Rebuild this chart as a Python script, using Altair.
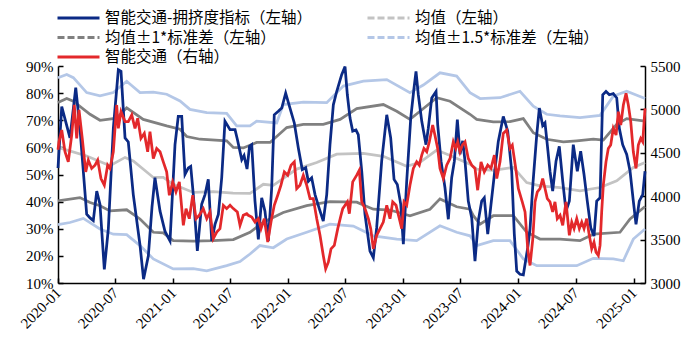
import altair as alt
import numpy as np
import pandas as pd

# ---------------- data (x = months since 2020-01-01) ----------------
START = pd.Timestamp("2020-01-01")
DAYS_PER_MONTH = 30.4375

S_BLUE = "智能交通-拥挤度指标（左轴）"
S_MEAN = "均值（左轴）"
S_SD1 = "均值±1*标准差（左轴）"
S_SD15 = "均值±1.5*标准差（左轴）"
S_RED = "智能交通（右轴）"
# legend is filled column by column (2 columns, 3 rows)
SERIES = [S_BLUE, S_SD1, S_RED, S_MEAN, S_SD15]
COLORS = ["#0B2A85", "#808080", "#E3282B", "#C3C3C3", "#B4C7E7"]
DASHES = [[1, 0], [7, 3], [1, 0], [7, 3], [7, 3]]

BLUE_M = [0, 0.39, 1.25, 1.85, 2.29, 2.99, 3.34, 3.68, 4.04, 4.38, 4.83, 5.25, 5.77, 6.29, 6.57, 6.99,
          7.33, 7.85, 8.55, 8.92, 9.42, 9.8, 10.11, 10.64, 11.16, 11.68, 12.2, 12.54, 12.9, 13.24, 13.59,
          13.84, 14.11, 14.53, 14.98, 15.33, 15.67, 16.03, 16.37, 16.72, 17.07, 17.41, 17.94, 18.46, 18.7,
          19.16, 19.4, 19.71, 19.97, 20.2, 20.54, 20.89, 21.24, 21.58, 21.93, 22.28, 22.55, 22.97, 23.33,
          23.74, 24.19, 24.64, 25.06, 25.47, 25.83, 26.1, 26.45, 26.8, 27.22, 27.66, 28.02, 28.36, 28.71,
          29.06, 29.58, 29.93, 30.17, 30.45, 30.73, 31.07, 31.31, 31.67, 32.01, 32.53, 32.88, 33.23, 33.75,
          34.28, 34.69, 35.04, 35.38, 35.74, 36.01, 36.36, 36.78, 37.12, 37.33, 37.57, 37.93, 38.37, 38.61,
          38.97, 39.42, 39.59, 39.94, 40.35, 40.7, 41.05, 41.33, 41.64, 41.92, 42.2, 42.44, 42.78, 43.14,
          43.48, 43.83, 44.18, 44.45, 44.81, 45.15, 45.5, 45.91, 46.43, 46.89, 47.31, 47.58, 47.83, 48.17,
          48.52, 48.98, 49.22, 49.53, 49.92, 50.19, 50.54, 50.78, 51.02, 51.3, 51.58, 51.93, 52.27, 52.63,
          52.97, 53.32, 53.73, 54.15, 54.5, 54.85, 55.19, 55.55, 55.89, 56.17, 56.52, 56.8, 57.14, 57.49,
          57.9, 58.26, 58.53, 58.88, 59.3, 59.65, 59.99, 60.27, 60.61, 60.97, 61.21]
BLUE_V = [52.4, 75, 63.5, 82, 67, 35.4, 34, 33, 43.9, 39, 15, 30, 67, 88.6, 88, 63.5,
          62, 42.6, 24, 11.4, 20, 38, 48.8, 36.5, 29, 25.5, 61, 71.4, 71.4, 50, 52.4,
          53, 42.6, 21.8, 39, 42.6, 48.2, 25.5, 31.6, 35.3, 48.8, 69.6, 66.5, 66.5, 63,
          55.5, 57, 52, 60.4, 61, 40.2, 26.1, 41.4, 36.5, 25.5, 45, 72, 73.3, 74.5,
          80, 74.5, 69, 59.8, 51.8, 52.5, 47.5, 48.8, 42.6, 37.7, 32.8, 42.6, 61, 75.7,
          80.6, 86.8, 89.8, 79.4, 70.8, 66, 66.4, 64.7, 51.2, 35.3, 21.8, 19.3, 30.4, 54.9,
          72, 63.5, 48.2, 46.3, 39, 24.3, 47.5, 70.8, 81.8, 88, 79.4, 69.6, 61, 67,
          78.2, 80.6, 68.4, 54.9, 45.1, 33.5, 48.8, 54.9, 70.2, 57.5, 62.4, 54.9, 40.2, 34,
          18.1, 33, 40.2, 41.4, 28, 39, 50, 62.2, 71.4, 66, 51.2, 28, 14.4, 13.2,
          13, 23, 30, 47, 64.7, 74.5, 68, 69, 61, 51.2, 43.9, 54.9, 60.4, 47.5,
          36.5, 40.2, 61, 51.2, 58.6, 50, 40.2, 30.4, 27.3, 40.2, 41.4, 79.4, 80.6, 79.4,
          79.8, 78.2, 67, 61, 57.4, 51.2, 40.2, 31.6, 40.2, 42.6, 51.2]

RED_M = [0, 0.1, 0.39, 0.73, 1.07, 1.43, 1.7, 1.95, 2.19, 2.53, 2.89, 3.16, 3.51, 3.86, 4.14, 4.48,
         4.83, 5.18, 5.42, 5.77, 6.12, 6.29, 6.57, 6.99, 7.33, 7.69, 8.03, 8.31, 8.65, 9.0, 9.35, 9.59,
         9.94, 10.29, 10.64, 10.98, 11.33, 11.61, 11.96, 12.3, 12.65, 13.07, 13.35, 13.69, 14.05, 14.39,
         14.73, 15.15, 15.51, 15.85, 16.19, 16.55, 16.89, 17.24, 17.59, 17.94, 18.28, 18.7, 18.98, 19.32,
         19.68, 19.84, 20.2, 20.54, 20.89, 21.17, 21.51, 21.87, 22.21, 22.55, 22.91, 23.25, 23.6, 23.95,
         24.3, 24.64, 24.89, 25.23, 25.58, 25.93, 26.28, 26.62, 26.98, 27.32, 27.66, 27.91, 28.19, 28.47,
         28.81, 29.17, 29.51, 29.69, 29.93, 30.17, 30.38, 30.73, 31.15, 31.42, 31.67, 32.01, 32.36, 32.61,
         32.88, 33.23, 33.58, 33.92, 34.28, 34.62, 34.9, 35.25, 35.59, 35.84, 36.08, 36.36, 36.7, 37.05,
         37.4, 37.67, 37.93, 38.16, 38.45, 38.72, 39.07, 39.31, 39.59, 39.83, 40.18, 40.53, 40.88, 41.22,
         41.47, 41.68, 41.92, 42.16, 42.44, 42.78, 43.14, 43.48, 43.76, 44.11, 44.45, 44.81, 45.15, 45.5,
         45.75, 46.09, 46.43, 46.79, 47.13, 47.37, 47.73, 48.0, 48.41, 48.7, 48.98, 49.22, 49.5, 49.74,
         49.98, 50.26, 50.54, 50.78, 51.02, 51.3, 51.58, 51.82, 52.06, 52.35, 52.63, 52.97, 53.32, 53.57,
         53.81, 54.09, 54.36, 54.61, 54.85, 55.13, 55.4, 55.65, 55.89, 56.1, 56.34, 56.52, 56.69, 56.86,
         57.14, 57.38, 57.63, 57.9, 58.19, 58.43, 58.68, 58.95, 59.23, 59.47, 59.72, 59.99, 60.27, 60.51,
         60.76, 60.97, 61.21]
RED_V = [4535, 4627, 4762, 4512, 4396, 4705, 5051, 4667, 4994, 4667, 4280, 4416, 4320, 4358, 4416, 4203,
         4127, 4358, 4320, 4512, 5051, 4782, 4974, 4859, 4859, 4936, 4782, 4897, 4666, 4724, 4512, 4743,
         4434, 4550, 4512, 4396, 4280, 4011, 4165, 4050, 4165, 3664, 3857, 3741, 4011, 3741,
         3780, 3857, 3741, 3818, 3510, 3587, 3626, 3895, 3857, 3895, 3857, 3818, 3664, 3780,
         3799, 3780, 3760, 3702, 3741, 3626, 3741, 3471, 3702, 3895, 4011, 4127, 4280, 4242,
         4358, 4396, 4088, 4127, 4242, 4127, 3972, 3972, 3741, 3549, 3317, 3163, 3240, 3394,
         3433, 3626, 3780, 3857, 3895, 3934, 3799, 4165, 4242, 4300, 3934, 3857, 3741, 3626,
         3394, 3549, 3626, 3702, 3895, 3741, 3934, 3895, 3741, 3626, 3934, 3895, 4127, 4320,
         4396, 4358, 4473, 4550, 4512, 4627, 4820, 4700, 4550, 4320, 4203, 4358, 4435, 4627,
         4550, 4627, 4512, 4589, 4627, 4435, 4358, 4320, 4069, 4396, 4280, 4358, 4320, 4473,
         4203, 4396, 4723, 4762, 4550, 4589, 4320, 4088, 3934, 3818, 3394, 3202, 3500, 3934,
         4050, 4088, 4203, 4088, 3972, 3934, 3818, 3934, 3741, 3780, 3664, 3934, 3549, 3702,
         3626, 3741, 3626, 3702, 3626, 3741, 3549, 3394, 3471, 3356, 3317, 3433, 3818, 4127,
         4396, 4550, 4589, 4782, 4705, 4974, 4820, 5051, 5186, 5051, 4859, 4512, 4320, 4589,
         4666, 4627, 5012]

MEAN_M = [0, 2.99, 5.42, 6.99, 7.85, 9.94, 10.98, 12.02, 14.11, 16.19, 18.25, 20.02, 21.41, 22.45,
          24.89, 26.98, 29.06, 31.84, 33.92, 36.36, 37.75, 39.49, 40.88, 42.96, 43.66, 45.39, 47.48,
          48.87, 50.26, 52.35, 54.43, 56.52, 58.26, 59.99, 61.21]
MEAN_V = [60, 56.8, 53.2, 56.3, 55, 48.9, 48.9, 46.4, 43.4, 43.7, 43.1, 43, 46.4, 46,
          52, 54.4, 57.5, 57.8, 56.7, 53, 54.5, 59, 57, 53.8, 52, 51.5, 52.6,
          47, 45.8, 45.2, 44, 45.2, 47.7, 52.6, 54.4]

SD1_UP_M = [0, 0.91, 1.6, 3.34, 4.38, 6.12, 7.16, 8.89, 11.33, 12.72, 13.42, 14.81, 17.59, 18.28,
            19.32, 20.72, 22.11, 23.85, 25.58, 27.66, 29.41, 31.15, 33.92, 35.32, 36.7, 37.75, 39.49,
            40.88, 42.96, 43.66, 45.39, 47.13, 48.52, 49.56, 50.96, 52.69, 54.09, 55.82, 56.86, 58.26,
            59.3, 61.21]
SD1_UP_V = [76.5, 78, 77, 72.2, 70, 70.8, 74.6, 70.3, 67.9, 66.7, 64, 63, 62.4, 60,
            59.8, 61.8, 61.8, 67.3, 68.5, 68.5, 70.3, 74.3, 75.8, 73.3, 70.3, 73.3, 78.3,
            77, 72.2, 70.3, 69.4, 69.5, 70.6, 65.4, 63, 62, 62.4, 63, 62.7, 68.5,
            70.6, 69.7]

SD1_LO_M = [0, 2.29, 3.34, 4.38, 5.42, 7.16, 8.55, 9.94, 10.98, 12.02, 14.11, 16.19, 18.28, 20.02,
            21.41, 23.49, 25.93, 28.36, 31.15, 32.88, 34.62, 36.7, 38.79, 39.83, 41.57, 42.96, 43.31,
            44.01, 45.39, 47.48, 48.87, 50.26, 52.35, 54.43, 55.82, 58.6, 59.65, 61.21]
SD1_LO_V = [40.3, 41.5, 39.7, 38.5, 36.6, 37, 33.6, 28.7, 28.5, 25.6, 25.4, 25.6, 26, 28.7,
            32.4, 36, 38.5, 40, 39.8, 37.2, 36.9, 34.8, 37.2, 41, 38.1, 37.2, 34.8,
            31.7, 34.8, 34.8, 28.7, 26.2, 26.2, 25.6, 28, 28.7, 33.6, 38.2]

SD15_UP_M = [0, 0.91, 1.6, 2.99, 4.38, 5.77, 7.16, 8.55, 9.94, 11.33, 12.72, 13.76, 15.51, 17.59,
             18.63, 20.02, 20.72, 22.8, 23.49, 25.58, 28.02, 29.75, 31.84, 34.28, 36.7, 38.09, 39.83,
             41.57, 42.96, 44.01, 46.09, 48.17, 49.56, 50.96, 52.35, 54.43, 56.52, 57.9, 59.3, 61.21]
SD15_UP_V = [85.7, 86.9, 85.7, 80.2, 79, 80.2, 84.4, 80.2, 80.4, 79.6, 77.1, 74, 72.8, 72.5,
             67.9, 67.9, 69.7, 69, 75.8, 76.7, 76.5, 82.6, 84.4, 85, 80.2, 83, 87.5,
             86.3, 80.2, 78, 78.3, 80.7, 75.2, 72.2, 71.6, 71, 71.8, 78.9, 80.7, 78]

SD15_LO_M = [0, 1.25, 2.64, 4.38, 5.77, 7.16, 8.55, 9.94, 12.02, 14.11, 15.51, 17.59, 18.98, 20.02,
             21.06, 22.45, 23.85, 25.93, 28.36, 30.79, 32.88, 35.32, 37.4, 39.83, 41.57, 42.96, 43.66,
             45.39, 47.13, 48.52, 49.92, 52.0, 54.09, 55.82, 57.9, 58.95, 59.99, 61.21]
SD15_LO_V = [31.5, 32.3, 33.8, 29.9, 28, 27.8, 23.8, 18.9, 15.2, 15.3, 14.5, 16.4, 17.9, 20.7,
             23.8, 23, 26.2, 28.7, 31.7, 31, 27.4, 26.2, 25.6, 31.1, 28.7, 27.4, 23.8,
             25.6, 25.6, 18.9, 16.4, 16.4, 16.4, 19.1, 18.9, 18.2, 26.2, 29.9]

LEFT_TICKS = [10, 20, 30, 40, 50, 60, 70, 80, 90]
RIGHT_TICKS = [3000, 3500, 4000, 4500, 5000, 5500]
X_TICK_YEARS_MONTHS = [(2020, 1), (2020, 7), (2021, 1), (2021, 7), (2022, 1), (2022, 7),
                       (2023, 1), (2023, 7), (2024, 1), (2024, 7), (2025, 1)]


def to_dates(months):
    return START + pd.to_timedelta(np.array(months, dtype=float) * DAYS_PER_MONTH, unit="D")


def frame(months, values, series, part):
    return pd.DataFrame({"date": to_dates(months), "value": values, "series": series, "part": part})


blue_df = frame(BLUE_M, BLUE_V, S_BLUE, "main")
red_df = frame(RED_M, RED_V, S_RED, "main")
bands_df = pd.concat([
    frame(SD15_UP_M, SD15_UP_V, S_SD15, "up15"),
    frame(SD15_LO_M, SD15_LO_V, S_SD15, "lo15"),
    frame(SD1_UP_M, SD1_UP_V, S_SD1, "up1"),
    frame(SD1_LO_M, SD1_LO_V, S_SD1, "lo1"),
    frame(MEAN_M, MEAN_V, S_MEAN, "mean"),
], ignore_index=True)
legend_df = pd.DataFrame({"date": [START] * len(SERIES), "value": [50] * len(SERIES), "series": SERIES})

# ---------------- layout constants ----------------
W, H = 587, 217
SERIF = "Liberation Serif"
CJK = "Noto Sans CJK SC"
AX_FS = 15
LW = 2.75

x_values = [alt.DateTime(year=y, month=m, date=1) for y, m in X_TICK_YEARS_MONTHS]
x_scale = alt.Scale(domain=[alt.DateTime(year=2020, month=1, date=1),
                            alt.DateTime(year=2025, month=2, date=6)])
yl_scale = alt.Scale(domain=[10, 90], nice=False, zero=False)
yr_scale = alt.Scale(domain=[3000, 5500], nice=False, zero=False)

x_main = alt.X("date:T", scale=x_scale, axis=alt.Axis(
    orient="bottom", values=x_values, format="%Y-%m", labelAngle=315, labelAlign="right",
    labelBaseline="middle", labelPadding=7, ticks=False, domainColor="black", domainWidth=1.5,
    labelFont=SERIF, labelFontSize=AX_FS, labelColor="black", grid=False, title=None,
    labelOverlap=False))
x_ticks = alt.X("date:T", axis=alt.Axis(
    orient="top", offset=-H, values=x_values, labels=False, domain=False, tickSize=5,
    tickColor="black", tickWidth=1.5, grid=False, title=None))
yl_main = alt.Y("value:Q", scale=yl_scale, axis=alt.Axis(
    orient="left", values=LEFT_TICKS, labelExpr="datum.value + '%'", ticks=False,
    domainColor="black", domainWidth=1.5, labelFont=SERIF, labelFontSize=AX_FS,
    labelColor="black", labelPadding=5, grid=False, title=None))
yl_ticks = alt.Y("value:Q", scale=yl_scale, axis=alt.Axis(
    orient="right", offset=-W, values=LEFT_TICKS, labels=False, domain=False, tickSize=5,
    tickColor="black", tickWidth=1.5, grid=False, title=None))

bands = alt.Chart(bands_df).mark_line(strokeWidth=LW).encode(
    x=x_main, y=yl_main,
    color=alt.Color("series:N"),
    detail="part:N")

blue = alt.Chart(blue_df).mark_line(strokeWidth=LW).encode(
    x=x_ticks, y=yl_ticks,
    color=alt.Color("series:N"))

leg = alt.Legend(
    title=None, orient="none", legendX=-2, legendY=-57, columns=2, columnPadding=54,
    rowPadding=1.5, clipHeight=18, symbolType="stroke", symbolSize=1764, symbolStrokeWidth=3,
    labelFont=CJK, labelFontSize=15.5, labelColor="black", labelLimit=0, labelOffset=4,
    padding=0)
legend_layer = alt.Chart(legend_df).mark_line(strokeWidth=LW).encode(
    x=alt.X("date:T", axis=None),
    y=alt.Y("value:Q", axis=None),
    color=alt.Color("series:N", scale=alt.Scale(domain=SERIES, range=COLORS), legend=leg),
    strokeDash=alt.StrokeDash("series:N", scale=alt.Scale(domain=SERIES, range=DASHES), legend=leg))

red = alt.Chart(red_df).mark_line(strokeWidth=LW).encode(
    x=alt.X("date:T", axis=None),
    y=alt.Y("value:Q", scale=yr_scale, axis=alt.Axis(
        orient="right", values=RIGHT_TICKS, format="d", ticks=False, domainColor="black",
        domainWidth=1.5, labelFont=SERIF, labelFontSize=AX_FS, labelColor="black",
        labelPadding=5, grid=False, title=None)),
    color=alt.Color("series:N"))
red_ticks = alt.Chart(red_df).mark_line(opacity=0).encode(
    x=alt.X("date:T", axis=None),
    y=alt.Y("value:Q", scale=yr_scale, axis=alt.Axis(
        orient="left", offset=-W, values=RIGHT_TICKS, labels=False, domain=False, tickSize=5,
        tickColor="black", tickWidth=1.5, grid=False, title=None)))

left = alt.layer(bands, blue, legend_layer).resolve_axis(x="independent", y="independent")
right = alt.layer(red, red_ticks).resolve_axis(x="independent", y="independent")

chart = alt.layer(left, right).resolve_scale(y="independent").resolve_axis(
    x="independent", y="independent").properties(
    width=W, height=H,
    padding={"left": 50, "top": 58, "right": 44, "bottom": 70},
    autosize=alt.AutoSizeParams(type="none"),
    background="white",
).configure_view(stroke=None)

chart.save("out.html", embed_options={"renderer": "svg", "actions": False})
